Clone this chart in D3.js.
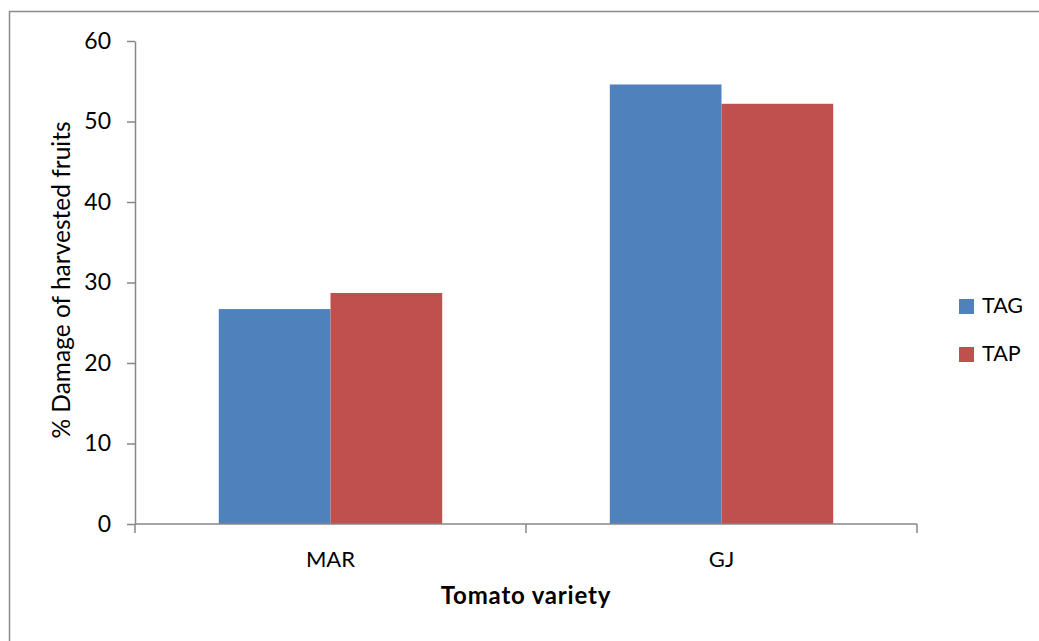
<!DOCTYPE html>
<html>
<head>
<meta charset="utf-8">
<script src="https://cdn.jsdelivr.net/npm/d3@7"></script>
<style>
  html, body { margin: 0; padding: 0; background: #fff; }
  svg { display: block; }
  text { font-family: Lato, "Liberation Sans", sans-serif; fill: #000; }
</style>
</head>
<body>
<svg id="chart" width="1039" height="641"></svg>
<script>
// Tomato varieties and the two treatment series
const categories = ["MAR", "GJ"];
const seriesNames = ["TAG", "TAP"];
const tagValues = [26.7, 54.6];
const tapValues = [28.7, 52.2];
const yTicks = [0, 10, 20, 30, 40, 50, 60];
const colors = ["#4F81BD", "#C0504D"];

const rows = categories.map((c, i) => ({ category: c, values: [tagValues[i], tapValues[i]] }));

const svg = d3.select("#chart");

// outer frame of the chart object
svg.append("rect")
  .attr("x", 9.5).attr("y", 11.5)
  .attr("width", 1100).attr("height", 700)
  .attr("fill", "#fff")
  .attr("stroke", "#8c8c8c")
  .attr("stroke-width", 1.5);

const plot = { left: 135, right: 917, top: 41, bottom: 524 };

const x0 = d3.scaleBand().domain(categories).range([plot.left, plot.right]).padding(0);
const gapRatio = 1.5; // gap width 150% of a bar
const barW = x0.bandwidth() / (seriesNames.length + gapRatio);
const x1 = d3.scaleBand().domain(seriesNames)
  .range([barW * gapRatio / 2, x0.bandwidth() - barW * gapRatio / 2]).padding(0);
const y = d3.scaleLinear().domain([0, 60]).range([plot.bottom, plot.top]);

// bars
const groups = svg.append("g").selectAll("g").data(rows).join("g")
  .attr("transform", d => `translate(${x0(d.category)},0)`);
groups.selectAll("rect")
  .data(d => d.values.map((v, i) => ({ key: seriesNames[i], value: v, i })))
  .join("rect")
  .attr("x", d => x1(d.key))
  .attr("width", x1.bandwidth())
  .attr("y", d => y(d.value))
  .attr("height", d => y(0) - y(d.value))
  .attr("fill", d => colors[d.i]);

const axisColor = "#878787";

// y axis
const yAxis = svg.append("g")
  .attr("transform", `translate(${plot.left},0)`)
  .call(d3.axisLeft(y).tickValues(yTicks).tickSize(8).tickPadding(16).tickSizeOuter(0));
yAxis.select(".domain").attr("stroke", axisColor).attr("stroke-width", 1.5);
yAxis.selectAll(".tick line").attr("stroke", axisColor).attr("stroke-width", 1.5);
yAxis.selectAll(".tick text")
  .attr("font-size", 23).attr("font-family", "Lato").attr("fill", "#000");

// x axis: ticks at category boundaries
const xAxisG = svg.append("g").attr("transform", `translate(0,${plot.bottom})`);
xAxisG.append("line")
  .attr("x1", plot.left).attr("x2", plot.right)
  .attr("stroke", axisColor).attr("stroke-width", 1.5);
const boundaries = categories.map(c => x0(c)).concat([x0(categories[categories.length - 1]) + x0.bandwidth()]);
xAxisG.selectAll("line.tick").data(boundaries).join("line")
  .attr("class", "tick")
  .attr("x1", d => d).attr("x2", d => d)
  .attr("y1", 0).attr("y2", 9)
  .attr("stroke", axisColor).attr("stroke-width", 1.5);
xAxisG.selectAll("text").data(categories).join("text")
  .attr("x", d => x0(d) + x0.bandwidth() / 2)
  .attr("y", 43)
  .attr("text-anchor", "middle")
  .attr("font-size", 22)
  .text(d => d);

// axis titles
svg.append("text")
  .attr("x", (plot.left + plot.right) / 2)
  .attr("y", 604)
  .attr("text-anchor", "middle")
  .attr("font-size", 24)
  .attr("font-weight", "bold")
  .attr("letter-spacing", 0.8)
  .text("Tomato variety");

svg.append("text")
  .attr("transform", `translate(70,280) rotate(-90)`)
  .attr("text-anchor", "middle")
  .attr("font-size", 24.5)
  .text("% Damage of harvested fruits");

// legend
const legend = svg.append("g").selectAll("g").data(seriesNames).join("g")
  .attr("transform", (d, i) => `translate(959,${299 + i * 48})`);
legend.append("rect").attr("width", 15).attr("height", 15).attr("fill", (d, i) => colors[i]);
legend.append("text").attr("x", 23).attr("y", 14).attr("font-size", 21.5).text(d => d);
</script>
</body>
</html>
